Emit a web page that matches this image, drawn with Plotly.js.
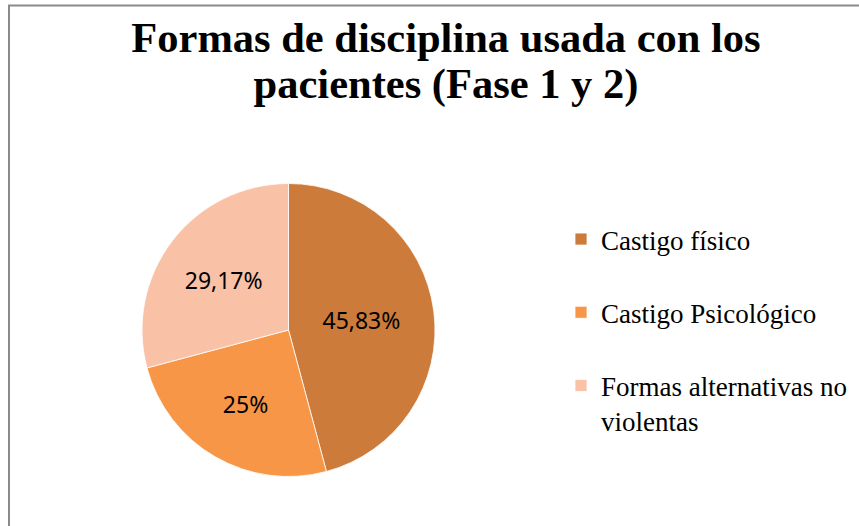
<!DOCTYPE html>
<html>
<head>
<meta charset="utf-8">
<script src="https://cdn.plot.ly/plotly-3.0.1.min.js"></script>
<style>
  html, body { margin: 0; padding: 0; background: #fff; }
  #chart { width: 859px; height: 526px; }
</style>
</head>
<body>
<div id="chart"></div>
<script>
// Data
const categories = ["Castigo físico", "Castigo Psicológico", "Formas alternativas no<br>violentas"];
const values = [11, 6, 7];
const colors = ["#CC7B3A", "#F79646", "#F9C2A7"];
const titleLines = ["Formas de disciplina usada con los", "pacientes (Fase 1 y 2)"];

// Legend labels: single-line entries get a blank second line for spacing
const labels = categories.map(c => c.indexOf("<br>") < 0 ? c + "<br>\u00a0" : c);

const W = 859, H = 526;
const cx = 288.5, cy = 330, R = 146.5;

const trace = {
  type: "pie",
  labels: labels,
  values: values,
  sort: false,
  direction: "clockwise",
  rotation: 0,
  marker: { colors: colors, line: { color: "#ffffff", width: 0.8 } },
  texttemplate: "%{percent:.4~p}",
  textposition: "inside",
  insidetextorientation: "horizontal",
  textfont: { family: "Noto Sans, Liberation Sans, sans-serif", size: 23, color: "#000000" },
  hoverinfo: "label+percent",
  domain: { x: [(cx - R) / W, (cx + R) / W], y: [1 - (cy + R) / H, 1 - (cy - R) / H] }
};

const layout = {
  width: W, height: H,
  margin: { l: 0, r: 0, t: 0, b: 0, autoexpand: false },
  paper_bgcolor: "#ffffff",
  plot_bgcolor: "#ffffff",
  separators: ",.",
  uniformtext: { mode: "show", minsize: 23 },
  title: {
    text: titleLines.map(l => '<span style="font-size:42.5px">' + l + '</span>').join("<br>"),
    font: { family: "Liberation Serif, Times New Roman, serif", size: 35, color: "#000000", weight: "bold" },
    x: 446 / W, xanchor: "center", xref: "container",
    y: 1 - 52 / H, yanchor: "top", yref: "container"
  },
  showlegend: true,
  legend: {
    font: { family: "Liberation Serif, Times New Roman, serif", size: 27, color: "#000000" },
    x: 561 / W, xanchor: "left", xref: "paper",
    y: 1 - 215 / H, yanchor: "top", yref: "paper",
    valign: "top",
    bgcolor: "rgba(0,0,0,0)",
    traceorder: "normal"
  },
  shapes: [{
    type: "rect", xref: "paper", yref: "paper",
    x0: 9 / W, x1: 1.05, y0: -0.05, y1: 1 - 5.5 / H,
    line: { color: "#8a8a8a", width: 2 },
    fillcolor: "rgba(0,0,0,0)",
    layer: "below"
  }]
};

Plotly.newPlot("chart", [trace], layout, { displayModeBar: false, staticPlot: true });
</script>
</body>
</html>
